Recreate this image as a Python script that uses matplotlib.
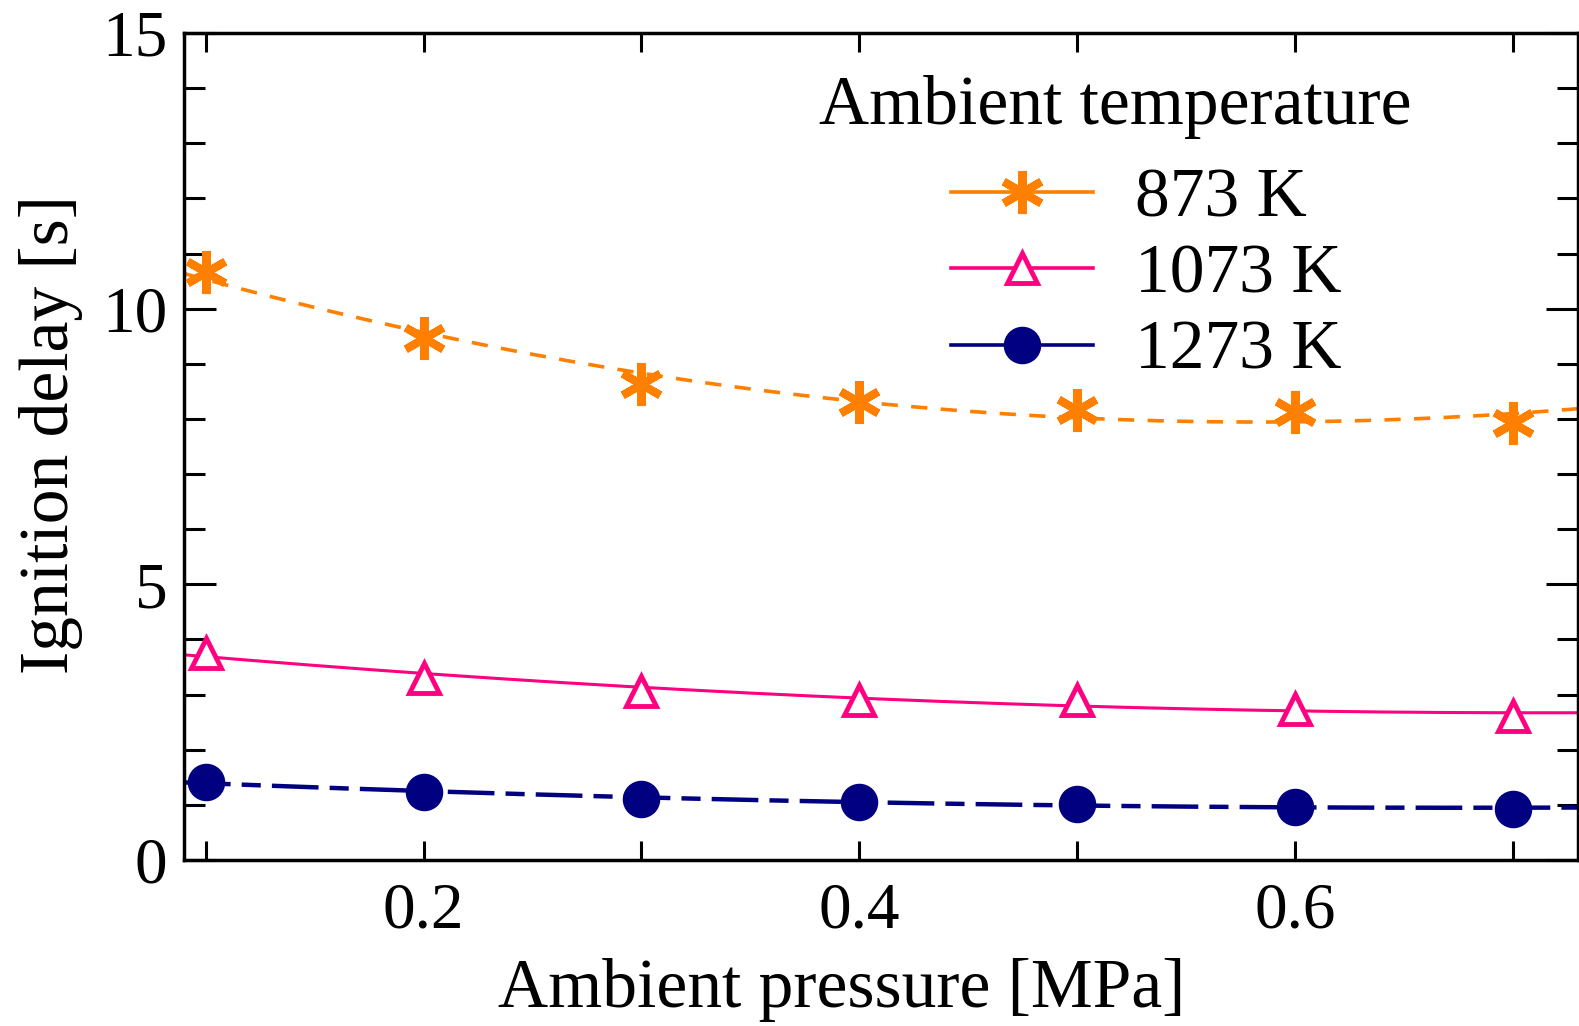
import numpy as np
import matplotlib
matplotlib.use("Agg")
import matplotlib.pyplot as plt
from matplotlib.lines import Line2D
from matplotlib.ticker import MultipleLocator, FormatStrFormatter

plt.rcParams['font.family'] = ['Liberation Serif', 'DejaVu Serif']

pressure = [0.1, 0.2, 0.3, 0.4, 0.5, 0.6, 0.7]
delay_873 = [10.67, 9.46, 8.64, 8.31, 8.17, 8.13, 7.93]
delay_1073 = [3.76, 3.31, 3.07, 2.91, 2.91, 2.74, 2.61]
delay_1273 = [1.41, 1.24, 1.10, 1.06, 1.01, 0.97, 0.93]
labels = ['873 K', '1073 K', '1273 K']
legend_title = 'Ambient temperature'

c873 = '#FF8000'
c1073 = '#FF0080'
c1273 = '#000080'

fig = plt.figure(figsize=(15.79, 10.26), dpi=100)
ax = fig.add_axes([0.1165, 0.1618, 0.8829, 0.806])

xmin, xmax = 0.09, 0.73
xs = np.linspace(xmin, xmax, 200)

def fit(y, deg=2):
    p = np.polyfit(pressure, y, deg)
    return np.polyval(p, xs)

ax.plot(xs, fit(delay_873), color=c873, lw=2.6, dashes=(4.5, 3.7), zorder=2)
ax.plot(xs, fit(delay_1073), color=c1073, lw=2.2, zorder=2)
ax.plot(xs, fit(delay_1273), color=c1273, lw=3.2, dashes=(10.5, 2.5, 4.3, 2.5), zorder=2)

star = (6, 2, 0)
ax.plot(pressure, delay_873, ls='none', marker=star, ms=31, mew=5.8,
        mec=c873, mfc=c873, zorder=3, clip_on=False)
ax.plot(pressure, delay_1073, ls='none', marker='^', ms=21, mew=3.5,
        mec=c1073, mfc='white', zorder=3, clip_on=False)
ax.plot(pressure, delay_1273, ls='none', marker='o', ms=26,
        mec=c1273, mfc=c1273, zorder=3, clip_on=False)

ax.set_xlim(xmin, xmax)
ax.set_ylim(0, 15)
ax.xaxis.set_major_locator(MultipleLocator(0.2))
ax.xaxis.set_minor_locator(MultipleLocator(0.1))
ax.yaxis.set_major_locator(MultipleLocator(5))
ax.yaxis.set_minor_locator(MultipleLocator(1))
ax.xaxis.set_major_formatter(FormatStrFormatter('%.1f'))

ax.tick_params(axis='both', which='both', direction='in', top=True, right=True,
               width=2.2, labelsize=47)
ax.tick_params(axis='x', which='both', length=14, pad=16)
ax.tick_params(axis='y', which='major', length=23, pad=12)
ax.tick_params(axis='y', which='minor', length=15)
for s in ax.spines.values():
    s.set_linewidth(2.5)

ax.set_xlabel('Ambient pressure [MPa]', fontsize=50, labelpad=12)
ax.set_ylabel('Ignition delay [s]', fontsize=50, labelpad=14)
ax.xaxis.label.set_x(0.472)
ax.yaxis.label.set_y(0.514)

handles = [
    Line2D([], [], color=c873, lw=2.6, marker=star, ms=31, mew=5.8, mec=c873, mfc=c873),
    Line2D([], [], color=c1073, lw=2.6, marker='^', ms=21, mew=3.5, mec=c1073, mfc='white'),
    Line2D([], [], color=c1273, lw=2.6, marker='o', ms=26, mec=c1273, mfc=c1273),
]
leg = ax.legend(handles, labels, loc='center left',
                bbox_to_anchor=(951 / 1579, (1026 - 276) / 1026),
                bbox_transform=fig.transFigure, frameon=False, fontsize=50,
                handlelength=2.05, handletextpad=0.6,
                labelspacing=0.18, borderaxespad=0, borderpad=0)

fig.text(1115 / 1579, (1026 - 107) / 1026, legend_title, fontsize=50,
         ha='center', va='center')

fig.savefig('out.png', dpi=100)
